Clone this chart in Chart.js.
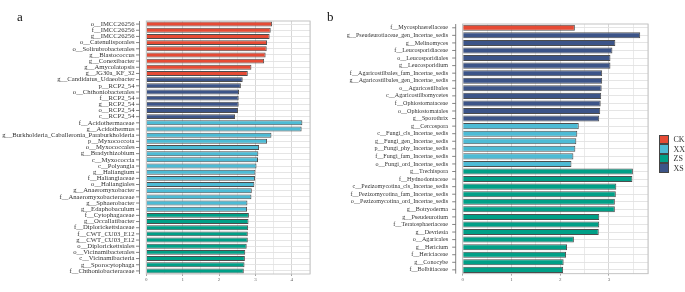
<!DOCTYPE html>
<html><head><meta charset="utf-8">
<script src="https://cdn.jsdelivr.net/npm/chart.js@4.4.0/dist/chart.umd.min.js"></script>
<style>
html,body{margin:0;padding:0;background:#fff;}
#wrap{position:relative;width:685px;height:292px;overflow:hidden;background:#fff;}
#ca{position:absolute;left:0;top:0;width:315px;height:292px;}
#cb{position:absolute;left:315px;top:0;width:370px;height:292px;}
.lab{position:absolute;font-family:"Liberation Serif",serif;font-size:13px;line-height:13px;color:#111;}
#legend{position:absolute;left:659px;top:135px;font-family:"Liberation Serif",serif;font-size:8px;color:#333;}
.li{display:flex;align-items:center;height:9px;margin-bottom:0.5px;}
.sw{width:7.5px;height:7.5px;border:0.75px solid #444;margin-right:5px;}
</style></head>
<body><div id="wrap">
<canvas id="ca" width="315" height="292"></canvas>
<canvas id="cb" width="370" height="292"></canvas>
<div class="lab" style="left:17px;top:10px">a</div>
<div class="lab" style="left:327px;top:10px">b</div>
<div id="legend"></div>
</div>
<script>
// ---------- data ----------
const groups = ['CK', 'XX', 'ZS', 'XS'];

const catsA = [
  'o__IMCC26256','f__IMCC26256','g__IMCC26256','o__Catenulisporales','o__Solirubrobacterales',
  'g__Blastococcus','g__Conexibacter','g__Amycolatopsis','g__JG30a_KF_32',
  'g__Candidatus_Udaeobacter','p__RCP2_54','o__Chthoniobacterales','f__RCP2_54','g__RCP2_54','o__RCP2_54','c__RCP2_54',
  'f__Acidothermaceae','g__Acidothermus','g__Burkholderia_Caballeronia_Paraburkholderia','p__Myxococcota','o__Myxococcales',
  'g__Bradyrhizobium','c__Myxococcia','c__Polyangia','g__Haliangium','f__Haliangiaceae','o__Haliangiales',
  'g__Anaeromyxobacter','f__Anaeromyxobacteraceae','g__Sphaerobacter','g__Edaphobaculum',
  'f__Cytophagaceae','g__Occallatibacter','f__Diplorickettsiaceae','f__CWT_CU03_E12','g__CWT_CU03_E12',
  'o__Diplorickettsiales','o__Vicinamibacterales','c__Vicinamibacteria','g__Sporocytophaga','f__Chthoniobacteraceae'
];
const valsA = [
  3.46, 3.42, 3.39, 3.32, 3.31, 3.28, 3.24, 2.89, 2.79,
  2.65, 2.60, 2.55, 2.54, 2.54, 2.52, 2.44,
  4.29, 4.27, 3.44, 3.32, 3.10, 3.08, 3.07, 3.03, 3.00, 2.99, 2.97, 2.90, 2.89, 2.78, 2.77,
  2.82, 2.81, 2.80, 2.79, 2.79, 2.76, 2.72, 2.71, 2.70, 2.68
];
const grpA = [].concat(Array(9).fill('CK'), Array(7).fill('XS'), Array(15).fill('XX'), Array(10).fill('ZS'));

const catsB = [
  'f__Mycosphaerellaceae',
  'g__Pseudeurotiaceae_gen_Incertae_sedis','g__Melinomyces','f__Leucosporidiaceae','o__Leucosporidiales','g__Leucosporidium',
  'f__Agaricostilbales_fam_Incertae_sedis','g__Agaricostilbales_gen_Incertae_sedis','o__Agaricostilbales','c__Agaricostilbomycetes',
  'f__Ophiostomataceae','o__Ophiostomatales','g__Sporothrix',
  'g__Cercospora','c__Fungi_cls_Incertae_sedis','g__Fungi_gen_Incertae_sedis','p__Fungi_phy_Incertae_sedis',
  'f__Fungi_fam_Incertae_sedis','o__Fungi_ord_Incertae_sedis',
  'g__Trechispora','f__Hydnodontaceae','c__Pezizomycotina_cls_Incertae_sedis','f__Pezizomycotina_fam_Incertae_sedis',
  'o__Pezizomycotina_ord_Incertae_sedis','g__Botryoderma','g__Pseudeurotium','f__Teratosphaeriaceae','g__Devriesia',
  'o__Agaricales','g__Hericium','f__Hericiaceae','g__Conocybe','f__Bolbitiaceae'
];
const valsB = [
  2.30,
  3.64, 3.13, 3.07, 3.03, 3.03, 2.86, 2.86, 2.85, 2.84, 2.83, 2.82, 2.80,
  2.38, 2.35, 2.33, 2.31, 2.27, 2.23,
  3.49, 3.48, 3.15, 3.14, 3.12, 3.12, 2.80, 2.80, 2.79, 2.28, 2.14, 2.12, 2.07, 2.06
];
const grpB = [].concat(['CK'], Array(12).fill('XS'), Array(6).fill('XX'), Array(14).fill('ZS'));

// ---------- style ----------
const COLORS = { CK: '#E64B35', XX: '#4DBBD5', ZS: '#00A087', XS: '#3C5488' };
const SERIF = '"Liberation Serif", "Times New Roman", serif';

const deco = {
  id: 'deco',
  afterDraw(chart, args, o) {
    const ctx = chart.ctx, a = chart.chartArea, ys = chart.scales.y;
    ctx.save();
    ctx.strokeStyle = '#c4c4c4';
    ctx.lineWidth = 1;
    ctx.strokeRect(a.left, a.top, a.right - a.left, a.bottom - a.top);
    const lx = a.left - o.gap;
    ctx.strokeStyle = '#666';
    ctx.lineWidth = 0.8;
    ctx.beginPath();
    ctx.moveTo(lx, a.top); ctx.lineTo(lx, a.bottom);
    ys.ticks.forEach((t, i) => {
      const y = ys.getPixelForTick(i);
      ctx.moveTo(lx - 3.5, y); ctx.lineTo(lx, y);
    });
    ctx.stroke();
    ctx.restore();
  }
};

function makeChart(id, cats, vals, grps, cfg) {
  return new Chart(document.getElementById(id), {
    type: 'bar',
    data: {
      labels: cats,
      datasets: [{
        data: vals,
        backgroundColor: grps.map(g => COLORS[g]),
        borderColor: '#4d4d4d',
        borderWidth: 1,
        barPercentage: 0.8,
        categoryPercentage: 1
      }]
    },
    options: {
      indexAxis: 'y',
      responsive: false,
      animation: false,
      layout: { padding: { top: cfg.top, right: cfg.right, left: 0, bottom: 0 } },
      plugins: { legend: { display: false }, tooltip: { enabled: false }, deco: { gap: cfg.gap } },
      scales: {
        x: {
          min: 0, max: cfg.xmax,
          afterFit(s) { s.height = 18; },
          ticks: {
            stepSize: 0.5, autoSkip: false, maxRotation: 0, padding: 1,
            font: { family: SERIF, size: 5 }, color: '#666',
            callback(v) { return Number.isInteger(v) ? String(v) : ''; }
          },
          grid: {
            color: c => (c.tick && Number.isInteger(c.tick.value)) ? '#d2d2d2' : '#e8e8e8',
            tickColor: c => (c.tick && Number.isInteger(c.tick.value)) ? '#999' : 'rgba(0,0,0,0)',
            tickLength: 2, lineWidth: 0.9
          },
          border: { display: false }
        },
        y: {
          afterFit(s) { s.width = cfg.left; },
          ticks: { autoSkip: false, padding: cfg.pad, font: { family: SERIF, size: cfg.fs }, color: '#333' },
          grid: { offset: false, color: '#e2e2e2', drawTicks: false, lineWidth: 0.9 },
          border: { display: false }
        }
      }
    },
    plugins: [deco]
  });
}

makeChart('ca', catsA, valsA, grpA, { xmax: 4.5, left: 146.3, top: 21, right: 5, pad: 11.8, gap: 6.8, fs: 6.7 });
makeChart('cb', catsB, valsB, grpB, { xmax: 3.8, left: 147.7, top: 24, right: 37, pad: 14.7, gap: 7, fs: 6.1 });

// legend
const lg = document.getElementById('legend');
groups.forEach(g => {
  const d = document.createElement('div'); d.className = 'li';
  const s = document.createElement('div'); s.className = 'sw'; s.style.background = COLORS[g];
  const t = document.createElement('span'); t.textContent = g;
  d.appendChild(s); d.appendChild(t); lg.appendChild(d);
});
</script>
</body></html>
